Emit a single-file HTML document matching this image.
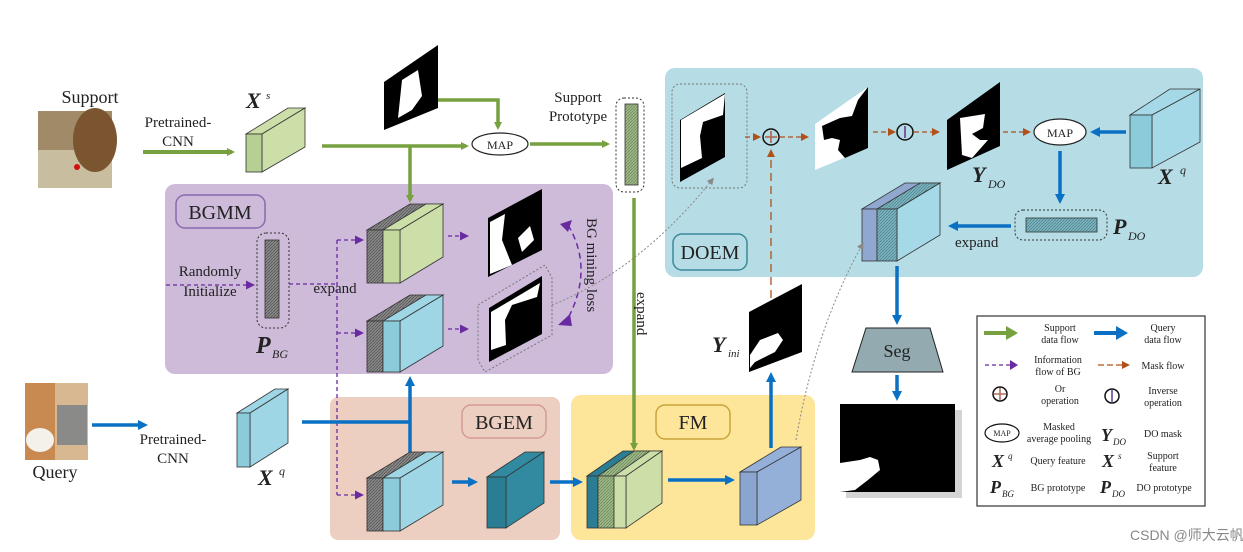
<!DOCTYPE html>
<html><head><meta charset="utf-8"><style>
html,body{margin:0;padding:0;background:#fff}
svg{display:block}
text{font-family:"Liberation Serif","DejaVu Serif",serif;fill:#222}
.i{font-style:italic;font-weight:bold}
</style></head><body>
<svg width="1243" height="552" viewBox="0 0 1243 552" xmlns="http://www.w3.org/2000/svg">
<defs>
<pattern id="hg" width="3" height="3" patternUnits="userSpaceOnUse"><rect width="3" height="3" fill="#8a8a8a"/><path d="M0 3L3 0" stroke="#555" stroke-width="0.8"/></pattern>
<pattern id="hgr" width="3" height="3" patternUnits="userSpaceOnUse"><rect width="3" height="3" fill="#9fb88a"/><path d="M0 3L3 0" stroke="#6d8a5a" stroke-width="0.8"/></pattern>
<pattern id="hb" width="3" height="3" patternUnits="userSpaceOnUse"><rect width="3" height="3" fill="#7fb4bf"/><path d="M0 3L3 0" stroke="#4d8590" stroke-width="0.8"/></pattern>
<marker id="ag" markerWidth="8" markerHeight="8" refX="5" refY="4" orient="auto" markerUnits="userSpaceOnUse"><path d="M0 0L8 4L0 8z" fill="#77a03e"/></marker>
<marker id="ab" markerWidth="10" markerHeight="10" refX="6" refY="5" orient="auto" markerUnits="userSpaceOnUse"><path d="M0 0L10 5L0 10z" fill="#0a70c4"/></marker>
<marker id="ap" markerWidth="9" markerHeight="9" refX="6" refY="4.5" orient="auto" markerUnits="userSpaceOnUse"><path d="M0 0L9 4.5L0 9z" fill="#6a2aa0"/></marker>
<marker id="ao" markerWidth="8" markerHeight="8" refX="5" refY="4" orient="auto" markerUnits="userSpaceOnUse"><path d="M0 0L8 4L0 8z" fill="#b0501a"/></marker>
<marker id="ay" markerWidth="7" markerHeight="7" refX="4" refY="3.5" orient="auto" markerUnits="userSpaceOnUse"><path d="M0 0L7 3.5L0 7z" fill="#888"/></marker>
</defs>

<rect x="165" y="184" width="448" height="190" rx="10" fill="#cdbbd9"/>
<rect x="665" y="68" width="538" height="209" rx="10" fill="#b6dde6"/>
<rect x="330" y="397" width="230" height="143" rx="8" fill="#eccfc0"/>
<rect x="571" y="395" width="244" height="145" rx="10" fill="#fde59a"/>

<rect x="176" y="195" width="89" height="33" rx="9" fill="none" stroke="#8a6bb0" stroke-width="1.5"/>
<text x="220" y="219" font-size="20" text-anchor="middle">BGMM</text>
<rect x="673" y="234" width="74" height="36" rx="9" fill="none" stroke="#3a8a9a" stroke-width="1.5"/>
<text x="710" y="259" font-size="20" text-anchor="middle">DOEM</text>
<rect x="462" y="405" width="84" height="33" rx="9" fill="none" stroke="#d49b95" stroke-width="1.5"/>
<text x="504" y="429" font-size="20" text-anchor="middle">BGEM</text>
<rect x="656" y="405" width="74" height="34" rx="9" fill="none" stroke="#c9a43b" stroke-width="1.5"/>
<text x="693" y="429" font-size="20" text-anchor="middle">FM</text>

<!-- Support -->
<text x="90" y="103" font-size="18" text-anchor="middle">Support</text>
<rect x="38" y="111" width="74" height="77" fill="#a08a68"/>
<rect x="38" y="150" width="74" height="38" fill="#c9bda0"/>
<ellipse cx="95" cy="140" rx="22" ry="32" fill="#7a5530"/>
<circle cx="77" cy="167" r="3" fill="#d01010"/>
<text x="178" y="127" font-size="15" text-anchor="middle">Pretrained-</text>
<text x="178" y="146" font-size="15" text-anchor="middle">CNN</text>
<line x1="143" y1="152" x2="232" y2="152" stroke="#77a03e" stroke-width="4" marker-end="url(#ag)"/>
<polygon points="246,134 288,108 305,108 262,134" fill="#cddfa8" stroke="#333" stroke-width="0.8"/>
<polygon points="262,134 305,108 305,147 262,172" fill="#cddfa8" stroke="#333" stroke-width="0.8"/>
<rect x="246" y="134" width="16" height="38" fill="#b6cf92" stroke="#333" stroke-width="0.8"/>
<text x="246" y="108" font-size="22" class="i">X</text><text x="266" y="99" font-size="11" font-style="italic">s</text>

<line x1="322" y1="146" x2="466" y2="146" stroke="#77a03e" stroke-width="3.5" marker-end="url(#ag)"/>
<line x1="410" y1="146" x2="410" y2="200" stroke="#77a03e" stroke-width="3.5" marker-end="url(#ag)"/>
<polygon points="384,82 438,45 438,108 384,130" fill="#000"/>
<path d="M398 118 L402 80 L418 70 L422 96 L412 110 Z" fill="#fff"/>
<polyline points="438,100 498,100 498,127" fill="none" stroke="#77a03e" stroke-width="3.5" marker-end="url(#ag)"/>
<ellipse cx="500" cy="144" rx="28" ry="11" fill="#fff" stroke="#222" stroke-width="1.2"/>
<text x="500" y="149" font-size="12" text-anchor="middle">MAP</text>
<line x1="530" y1="144" x2="607" y2="144" stroke="#77a03e" stroke-width="3.5" marker-end="url(#ag)"/>
<text x="578" y="102" font-size="15" text-anchor="middle">Support</text>
<text x="578" y="121" font-size="15" text-anchor="middle">Prototype</text>
<rect x="616" y="98" width="28" height="94" rx="8" fill="none" stroke="#333" stroke-width="1" stroke-dasharray="2,2"/>
<rect x="625" y="104" width="13" height="81" fill="url(#hgr)" stroke="#333" stroke-width="0.8"/>
<line x1="634" y1="198" x2="634" y2="448" stroke="#77a03e" stroke-width="3.5" marker-end="url(#ag)"/>
<text transform="translate(637,292) rotate(90)" font-size="15">expand</text>

<!-- BGMM -->
<text x="210" y="276" font-size="15" text-anchor="middle">Randomly</text>
<text x="210" y="296" font-size="15" text-anchor="middle">Initialize</text>
<line x1="166" y1="285" x2="252" y2="285" stroke="#6a2aa0" stroke-width="1.3" stroke-dasharray="4,3" marker-end="url(#ap)"/>
<rect x="257" y="233" width="32" height="95" rx="9" fill="none" stroke="#333" stroke-width="1" stroke-dasharray="2,2"/>
<rect x="265" y="240" width="14" height="78" fill="url(#hg)" stroke="#333" stroke-width="0.8"/>
<text x="256" y="353" font-size="24" class="i">P</text><text x="272" y="358" font-size="12" font-style="italic">BG</text>
<text x="335" y="293" font-size="15" text-anchor="middle">expand</text>
<polyline points="289,284 337,284" fill="none" stroke="#6a2aa0" stroke-width="1.3" stroke-dasharray="4,3"/>
<line x1="337" y1="240" x2="337" y2="495" stroke="#6a2aa0" stroke-width="1.3" stroke-dasharray="4,3"/>
<line x1="337" y1="240" x2="361" y2="240" stroke="#6a2aa0" stroke-width="1.3" stroke-dasharray="4,3" marker-end="url(#ap)"/>
<line x1="337" y1="333" x2="361" y2="333" stroke="#6a2aa0" stroke-width="1.3" stroke-dasharray="4,3" marker-end="url(#ap)"/>
<line x1="337" y1="495" x2="361" y2="495" stroke="#6a2aa0" stroke-width="1.3" stroke-dasharray="4,3" marker-end="url(#ap)"/>

<polygon points="367,230 410,204 443,204 400,230" fill="url(#hg)" stroke="#333" stroke-width="0.8"/>
<polygon points="383,230 426,204 443,204 400,230" fill="#cddfa8" stroke="#333" stroke-width="0.8"/>
<polygon points="400,230 443,204 443,257 400,283" fill="#cddfa8" stroke="#333" stroke-width="0.8"/>
<rect x="367" y="230" width="16" height="53" fill="url(#hg)" stroke="#333" stroke-width="0.8"/>
<rect x="383" y="230" width="17" height="53" fill="#c4d99d" stroke="#333" stroke-width="0.8"/>
<polygon points="367,321 410,295 443,295 400,321" fill="url(#hg)" stroke="#333" stroke-width="0.8"/>
<polygon points="383,321 426,295 443,295 400,321" fill="#9ed6e6" stroke="#333" stroke-width="0.8"/>
<polygon points="400,321 443,295 443,346 400,372" fill="#9ed6e6" stroke="#333" stroke-width="0.8"/>
<rect x="367" y="321" width="16" height="51" fill="url(#hg)" stroke="#333" stroke-width="0.8"/>
<rect x="383" y="321" width="17" height="51" fill="#8ccbd9" stroke="#333" stroke-width="0.8"/>
<line x1="448" y1="236" x2="466" y2="236" stroke="#6a2aa0" stroke-width="1.3" stroke-dasharray="4,3" marker-end="url(#ap)"/>
<line x1="448" y1="329" x2="466" y2="329" stroke="#6a2aa0" stroke-width="1.3" stroke-dasharray="4,3" marker-end="url(#ap)"/>
<polygon points="488,218 542,189 542,250 488,277" fill="#000"/>
<path d="M490 222 L505 214 L502 240 L512 265 L490 274 Z" fill="#fff"/>
<path d="M518 238 L530 226 L534 240 L522 252 Z" fill="#fff"/>
<rect x="480" y="262" width="74" height="108" rx="8" fill="none" stroke="#777" stroke-width="1" stroke-dasharray="2,2" opacity="0"/>
<polygon points="478,305 545,265 552,278 552,335 485,372 478,360" fill="none" stroke="#777" stroke-width="1" stroke-dasharray="2,2"/>
<polygon points="489,308 542,276 542,334 489,362" fill="#000"/>
<path d="M491 312 L540 283 L537 297 L512 305 L505 320 L506 345 L491 350 Z" fill="#fff"/>
<path d="M568 225 Q595 270 566 322" fill="none" stroke="#6a2aa0" stroke-width="1.5" stroke-dasharray="6,4"/>
<path d="M560 224 L572 220 L568 232 Z" fill="#6a2aa0"/>
<path d="M558 325 L570 314 L572 326 Z" fill="#6a2aa0"/>
<text transform="translate(587,218) rotate(90)" font-size="15">BG mining loss</text>
<path d="M552 305 Q640 270 712 180" fill="none" stroke="#888" stroke-width="1" stroke-dasharray="2,2" marker-end="url(#ay)"/>

<!-- DOEM -->
<rect x="672" y="84" width="75" height="104" rx="8" fill="none" stroke="#777" stroke-width="1" stroke-dasharray="2,2"/>
<polygon points="680,120 725,93 725,157 680,182" fill="#000"/>
<path d="M681 120 L725 94 L723 115 L703 122 L700 136 L702 158 L681 168 Z" fill="#fff"/>
<line x1="745" y1="137" x2="758" y2="137" stroke="#b0501a" stroke-width="1.3" stroke-dasharray="5,3" marker-end="url(#ao)"/>
<circle cx="771" cy="137" r="8" fill="none" stroke="#111" stroke-width="1.5"/>
<path d="M765 137H777M771 131V143" stroke="#b0705a" stroke-width="1.8"/>
<line x1="780" y1="137" x2="806" y2="137" stroke="#b0501a" stroke-width="1.3" stroke-dasharray="5,3" marker-end="url(#ao)"/>
<polygon points="815,124 868,87 868,148 815,170" fill="#fff"/>
<path d="M868 87 L868 148 L845 158 L838 150 L840 140 L832 138 L824 140 L822 126 L840 118 L852 116 L858 100 Z" fill="#000"/>
<line x1="873" y1="132" x2="893" y2="132" stroke="#b0501a" stroke-width="1.3" stroke-dasharray="5,3" marker-end="url(#ao)"/>
<circle cx="905" cy="132" r="8" fill="#b6dde6" stroke="#111" stroke-width="1.5"/>
<path d="M905 126V138" stroke="#7a5aa0" stroke-width="2"/>
<line x1="914" y1="132" x2="937" y2="132" stroke="#b0501a" stroke-width="1.3" stroke-dasharray="5,3" marker-end="url(#ao)"/>
<polygon points="947,120 1000,82 1000,146 947,170" fill="#000"/>
<path d="M960 118 L985 114 L983 128 L972 134 L980 140 L988 140 L972 158 L962 155 Z" fill="#fff"/>
<text x="972" y="182" font-size="22" class="i">Y</text><text x="988" y="188" font-size="12" font-style="italic">DO</text>
<line x1="1003" y1="132" x2="1028" y2="132" stroke="#b0501a" stroke-width="1.3" stroke-dasharray="5,3" marker-end="url(#ao)"/>
<ellipse cx="1060" cy="132" rx="26" ry="13" fill="#fff" stroke="#222" stroke-width="1.2"/>
<text x="1060" y="137" font-size="12" text-anchor="middle">MAP</text>
<line x1="1126" y1="132" x2="1094" y2="132" stroke="#0a70c4" stroke-width="3.5" marker-end="url(#ab)"/>
<polygon points="1130,115 1170,89 1200,89 1152,115" fill="#a6d9e8" stroke="#333" stroke-width="0.8"/>
<polygon points="1152,115 1200,89 1200,142 1152,168" fill="#a6d9e8" stroke="#333" stroke-width="0.8"/>
<rect x="1130" y="115" width="22" height="53" fill="#8ccbd9" stroke="#333" stroke-width="0.8"/>
<text x="1158" y="184" font-size="22" class="i">X</text><text x="1180" y="174" font-size="12" font-style="italic">q</text>
<line x1="1060" y1="151" x2="1060" y2="200" stroke="#0a70c4" stroke-width="3.5" marker-end="url(#ab)"/>
<rect x="1015" y="210" width="92" height="30" rx="8" fill="none" stroke="#333" stroke-width="1" stroke-dasharray="2,2"/>
<rect x="1026" y="218" width="71" height="14" fill="url(#hb)" stroke="#333" stroke-width="0.8"/>
<text x="1113" y="234" font-size="22" class="i">P</text><text x="1128" y="240" font-size="12" font-style="italic">DO</text>
<line x1="1011" y1="226" x2="952" y2="226" stroke="#0a70c4" stroke-width="3.5" marker-end="url(#ab)"/>
<text x="955" y="247" font-size="15">expand</text>
<polygon points="862,209 905,183 940,183 897,209" fill="#90a8d0" stroke="#333" stroke-width="0.8"/>
<polygon points="877,209 920,183 940,183 897,209" fill="url(#hb)" stroke="#333" stroke-width="0.8"/>
<polygon points="897,209 940,183 940,235 897,261" fill="#a6d9e8" stroke="#333" stroke-width="0.8"/>
<rect x="862" y="209" width="15" height="52" fill="#90a8d0" stroke="#333" stroke-width="0.8"/>
<rect x="877" y="209" width="20" height="52" fill="url(#hb)" stroke="#333" stroke-width="0.8"/>

<line x1="771" y1="298" x2="771" y2="152" stroke="#b0501a" stroke-width="1.3" stroke-dasharray="8,5" marker-end="url(#ao)"/>
<polygon points="749,312 802,284 802,352 749,372" fill="#000"/>
<path d="M750 355 L760 340 L778 333 L783 340 L775 352 L755 362 L750 368 Z" fill="#fff"/>
<text x="712" y="352" font-size="22" class="i">Y</text><text x="728" y="357" font-size="11" font-style="italic">ini</text>
<line x1="771" y1="448" x2="771" y2="376" stroke="#0a70c4" stroke-width="3.5" marker-end="url(#ab)"/>
<path d="M796 440 Q815 330 862 245" fill="none" stroke="#888" stroke-width="1" stroke-dasharray="2,2" marker-end="url(#ay)"/>

<!-- Seg -->
<line x1="897" y1="266" x2="897" y2="321" stroke="#0a70c4" stroke-width="3.5" marker-end="url(#ab)"/>
<polygon points="866,328 930,328 943,372 852,372" fill="#93aab0" stroke="#222" stroke-width="1"/>
<text x="897" y="357" font-size="18" text-anchor="middle">Seg</text>
<line x1="897" y1="375" x2="897" y2="397" stroke="#0a70c4" stroke-width="3.5" marker-end="url(#ab)"/>
<rect x="846" y="410" width="116" height="88" fill="#aaa" opacity="0.5"/>
<rect x="840" y="404" width="115" height="88" fill="#000"/>
<path d="M840 463 L860 460 L870 457 L878 460 L880 470 L868 480 L855 490 L840 492 Z" fill="#fff"/>

<!-- Query -->
<rect x="25" y="383" width="63" height="77" fill="#d8b890"/>
<rect x="25" y="383" width="30" height="77" fill="#c88a50"/>
<rect x="57" y="405" width="30" height="40" fill="#8a8a88"/>
<ellipse cx="40" cy="440" rx="14" ry="12" fill="#f4f0ea"/>
<text x="55" y="478" font-size="18" text-anchor="middle">Query</text>
<line x1="92" y1="425" x2="144" y2="425" stroke="#0a70c4" stroke-width="3.5" marker-end="url(#ab)"/>
<text x="173" y="444" font-size="15" text-anchor="middle">Pretrained-</text>
<text x="173" y="463" font-size="15" text-anchor="middle">CNN</text>
<polygon points="237,413 275,389 288,389 250,413" fill="#9ed6e6" stroke="#333" stroke-width="0.8"/>
<polygon points="250,413 288,389 288,443 250,467" fill="#9ed6e6" stroke="#333" stroke-width="0.8"/>
<rect x="237" y="413" width="13" height="54" fill="#8ccbd9" stroke="#333" stroke-width="0.8"/>
<text x="258" y="485" font-size="22" class="i">X</text><text x="279" y="475" font-size="12" font-style="italic">q</text>
<polyline points="302,422 410,422" fill="none" stroke="#0a70c4" stroke-width="3.5"/>
<line x1="410" y1="422" x2="410" y2="380" stroke="#0a70c4" stroke-width="3.5" marker-end="url(#ab)"/>
<line x1="410" y1="422" x2="410" y2="460" stroke="#0a70c4" stroke-width="3.5" marker-end="url(#ab)"/>
<polygon points="367,478 410,452 443,452 400,478" fill="url(#hg)" stroke="#333" stroke-width="0.8"/>
<polygon points="383,478 426,452 443,452 400,478" fill="#9ed6e6" stroke="#333" stroke-width="0.8"/>
<polygon points="400,478 443,452 443,505 400,531" fill="#9ed6e6" stroke="#333" stroke-width="0.8"/>
<rect x="367" y="478" width="16" height="53" fill="url(#hg)" stroke="#333" stroke-width="0.8"/>
<rect x="383" y="478" width="17" height="53" fill="#8ccbd9" stroke="#333" stroke-width="0.8"/>
<line x1="452" y1="482" x2="474" y2="482" stroke="#0a70c4" stroke-width="3.5" marker-end="url(#ab)"/>
<polygon points="487,477 525,452 544,452 506,477" fill="#318aa0" stroke="#333" stroke-width="0.8"/>
<polygon points="506,477 544,452 544,503 506,528" fill="#318aa0" stroke="#333" stroke-width="0.8"/>
<rect x="487" y="477" width="19" height="51" fill="#2a7d92" stroke="#333" stroke-width="0.8"/>
<line x1="550" y1="482" x2="579" y2="482" stroke="#0a70c4" stroke-width="3.5" marker-end="url(#ab)"/>
<polygon points="587,476 623,451 662,451 626,476" fill="#2a7d92" stroke="#333" stroke-width="0.8"/>
<polygon points="598,476 634,451 662,451 626,476" fill="url(#hgr)" stroke="#333" stroke-width="0.8"/>
<polygon points="614,476 650,451 662,451 626,476" fill="#cddfa8" stroke="#333" stroke-width="0.8"/>
<polygon points="626,476 662,451 662,503 626,528" fill="#cddfa8" stroke="#333" stroke-width="0.8"/>
<rect x="587" y="476" width="11" height="52" fill="#2a7d92" stroke="#333" stroke-width="0.8"/>
<rect x="598" y="476" width="16" height="52" fill="url(#hgr)" stroke="#333" stroke-width="0.8"/>
<rect x="614" y="476" width="12" height="52" fill="#cddfa8" stroke="#333" stroke-width="0.8"/>
<line x1="668" y1="480" x2="731" y2="480" stroke="#0a70c4" stroke-width="3.5" marker-end="url(#ab)"/>
<polygon points="740,472 781,447 801,447 757,472" fill="#94b0d8" stroke="#333" stroke-width="0.8"/>
<polygon points="757,472 801,447 801,500 757,525" fill="#94b0d8" stroke="#333" stroke-width="0.8"/>
<rect x="740" y="472" width="17" height="53" fill="#8aa6d0" stroke="#333" stroke-width="0.8"/>

<!-- Legend -->
<rect x="977" y="316" width="228" height="190" fill="#fff" stroke="#333" stroke-width="1.2"/>
<g font-size="10">
<line x1="984" y1="333" x2="1008" y2="333" stroke="#77a03e" stroke-width="4"/><path d="M1006 326L1018 333L1006 340z" fill="#77a03e"/>
<text x="1060" y="331" font-size="10" text-anchor="middle">Support</text><text x="1060" y="343" font-size="10" text-anchor="middle">data flow</text>
<line x1="1094" y1="333" x2="1118" y2="333" stroke="#0a70c4" stroke-width="4"/><path d="M1116 326L1128 333L1116 340z" fill="#0a70c4"/>
<text x="1163" y="331" font-size="10" text-anchor="middle">Query</text><text x="1163" y="343" font-size="10" text-anchor="middle">data flow</text>
<line x1="985" y1="365" x2="1010" y2="365" stroke="#6a2aa0" stroke-width="1.3" stroke-dasharray="4,3"/><path d="M1010 360L1018 365L1010 370z" fill="#6a2aa0"/>
<text x="1058" y="363" font-size="10" text-anchor="middle">Information</text><text x="1058" y="375" font-size="10" text-anchor="middle">flow of BG</text>
<line x1="1098" y1="365" x2="1122" y2="365" stroke="#b0501a" stroke-width="1.3" stroke-dasharray="6,3"/><path d="M1122 361L1130 365L1122 369z" fill="#b0501a"/>
<text x="1163" y="369" font-size="10" text-anchor="middle">Mask flow</text>
<circle cx="1000" cy="394" r="7" fill="none" stroke="#111" stroke-width="1.5"/><path d="M994 394H1006M1000 388V400" stroke="#b0705a" stroke-width="1.6"/>
<text x="1060" y="392" font-size="10" text-anchor="middle">Or</text><text x="1060" y="404" font-size="10" text-anchor="middle">operation</text>
<circle cx="1112" cy="396" r="7" fill="none" stroke="#111" stroke-width="1.5"/><path d="M1112 390V402" stroke="#7a5aa0" stroke-width="1.8"/>
<text x="1163" y="394" font-size="10" text-anchor="middle">Inverse</text><text x="1163" y="406" font-size="10" text-anchor="middle">operation</text>
<ellipse cx="1002" cy="433" rx="17" ry="9" fill="#fff" stroke="#111" stroke-width="1.2"/><text x="1002" y="436" font-size="8" text-anchor="middle">MAP</text>
<text x="1059" y="430" font-size="10" text-anchor="middle">Masked</text><text x="1059" y="442" font-size="10" text-anchor="middle">average pooling</text>
<text x="1101" y="441" font-size="18" class="i">Y</text><text x="1113" y="445" font-size="9" font-style="italic">DO</text>
<text x="1163" y="437" font-size="10" text-anchor="middle">DO mask</text>
<text x="992" y="467" font-size="18" class="i">X</text><text x="1008" y="459" font-size="9" font-style="italic">q</text>
<text x="1058" y="464" font-size="10" text-anchor="middle">Query feature</text>
<text x="1102" y="467" font-size="18" class="i">X</text><text x="1118" y="459" font-size="9" font-style="italic">s</text>
<text x="1163" y="459" font-size="10" text-anchor="middle">Support</text><text x="1163" y="471" font-size="10" text-anchor="middle">feature</text>
<text x="990" y="493" font-size="18" class="i">P</text><text x="1002" y="497" font-size="9" font-style="italic">BG</text>
<text x="1058" y="491" font-size="10" text-anchor="middle">BG prototype</text>
<text x="1100" y="493" font-size="18" class="i">P</text><text x="1112" y="497" font-size="9" font-style="italic">DO</text>
<text x="1164" y="491" font-size="10" text-anchor="middle">DO prototype</text>
</g>
<text x="1130" y="540" font-size="14" style="font-family:'Liberation Sans','Noto Sans CJK SC',sans-serif;fill:#888">CSDN @师大云帆</text>
</svg>
</body></html>
